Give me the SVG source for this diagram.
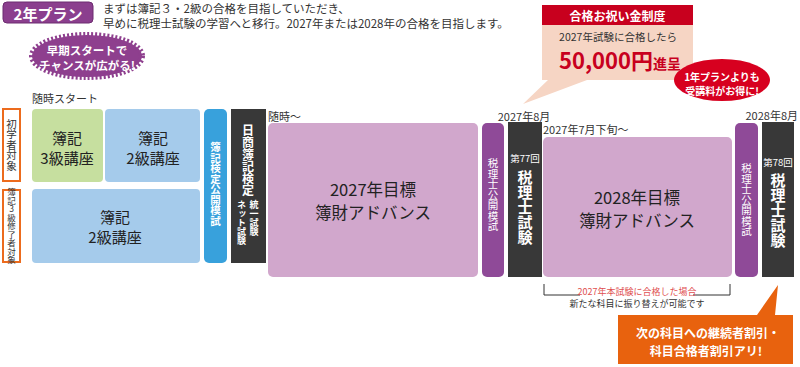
<svg xmlns="http://www.w3.org/2000/svg" width="800" height="367" viewBox="0 0 800 367">
<defs>
<style>
text{font-family:"Noto Sans CJK JP","Noto Sans",sans-serif;fill:#333;}
.c{text-anchor:middle;dominant-baseline:central;}
.v{writing-mode:vertical-rl;text-orientation:upright;text-anchor:middle;}
.s{writing-mode:vertical-rl;text-orientation:upright;text-anchor:start;}
.w{fill:#fff;}
.b{font-weight:bold;}
.dk{fill:#383838;}
.pk{fill:#d1a7cc;}
.pp{fill:#8f4a98;}
.lb{fill:#a5cbeb;}
.tag{fill:#fff;stroke:#ec6b1d;stroke-width:2;}
.big{font-size:16.5px;fill:#222;}
.bk{font-size:15px;fill:#222;}
</style>
</defs>
<rect width="800" height="367" fill="#fff"/>

<g id="badge">
<rect x="3" y="2" width="90" height="21" rx="4" fill="#8b3f8e" stroke="#6d2c70"/>
<text x="48" y="13" class="c w b" font-size="15">2年プラン</text>
</g>
<g id="intro">
<text x="103" y="13" font-size="11.5">まずは簿記３・2級の合格を目指していただき、</text>
<text x="103" y="27.5" font-size="11.5">早めに税理士試験の学習へと移行。2027年または2028年の合格を目指します。</text>
</g>

<g id="starburst">
<ellipse cx="87" cy="56" rx="55" ry="21" fill="#8e3f8e"/>
<ellipse cx="87" cy="56" rx="55" ry="21" fill="none" stroke="#8e3f8e" stroke-width="6" stroke-dasharray="2 2"/>
<text x="87" y="50" class="c w b" font-size="11.5">早期スタートで</text>
<text x="87" y="65" class="c w b" font-size="11.5">チャンスが広がる!</text>
</g>

<g id="reward">
<path d="M542 25 H693 V80 H587 L523 104 L548 80 H542 Z" fill="#f6d5c4"/>
<rect x="542" y="5" width="151" height="20" fill="#c8001e"/>
<text x="617.5" y="15" class="c w b" font-size="12">合格お祝い金制度</text>
<text x="618" y="36" class="c" font-size="10.5">2027年試験に合格したら</text>
<text x="559" y="69" font-size="22" font-weight="bold" style="fill:#c8001e">50,000円<tspan font-size="14">進呈</tspan></text>
</g>

<g id="discount">
<ellipse cx="722" cy="80" rx="48" ry="21" fill="#d7001f"/>
<text x="722" y="76" class="c w b" font-size="10">1年プランよりも</text>
<text x="722" y="90" class="c w b" font-size="10">受講料がお得に!</text>
</g>

<text x="32" y="103" font-size="11">随時スタート</text>

<g id="label-beginner">
<rect x="3" y="109" width="17" height="72" class="tag"/>
<text x="11.5" y="145" class="v" font-size="10.5">初学者対象</text>
</g>
<g id="label-boki3">
<rect x="3" y="190" width="17" height="72" class="tag"/>
<text x="11.5" y="226" class="v" font-size="8.5">簿記3級修了者対象</text>
</g>

<g id="boki3">
<rect x="32" y="109" width="71" height="73" rx="4" fill="#c6df9f"/>
<text x="67" y="137" class="c bk">簿記</text>
<text x="67" y="157" class="c bk">3級講座</text>
</g>
<g id="boki2a">
<rect x="105" y="109" width="95" height="73" rx="4" class="lb"/>
<text x="153" y="137" class="c bk">簿記</text>
<text x="153" y="157" class="c bk">2級講座</text>
</g>
<g id="boki2b">
<rect x="32" y="189" width="168" height="74" rx="4" class="lb"/>
<text x="115" y="216" class="c bk">簿記</text>
<text x="115" y="236" class="c bk">2級講座</text>
</g>
<g id="boki-mock">
<rect x="204" y="109" width="23" height="154" rx="5" fill="#38a1dc"/>
<text x="215.5" y="184" class="v w b" font-size="10.5">簿記検定公開模試</text>
</g>
<g id="nissho">
<rect x="231" y="109" width="35" height="154" class="dk"/>
<text x="248" y="160" class="v w b" font-size="12">日商簿記検定</text>
<text x="254" y="200" class="s w b" font-size="9">統一試験</text>
<text x="241.5" y="200" class="s w b" font-size="9">ネット試験</text>
</g>

<text x="268" y="116" font-size="11" dominant-baseline="central">随時〜</text>
<g id="adv2027">
<rect x="268" y="123" width="210" height="154" rx="5" class="pk"/>
<text x="373" y="189" class="c big">2027年目標</text>
<text x="373" y="212" class="c big">簿財アドバンス</text>
</g>
<g id="mock2027">
<rect x="482" y="123" width="22" height="154" rx="5" class="pp"/>
<text x="493" y="195" class="v w" font-size="10.5">税理士公開模試</text>
</g>
<text x="524" y="116" class="c" font-size="11">2027年8月</text>
<g id="exam77">
<rect x="508" y="122" width="34" height="155" class="dk"/>
<text x="525" y="158" class="c w" font-size="9.5">第77回</text>
<text x="525" y="170" class="s w b" font-size="15">税理士試験</text>
</g>

<text x="543" y="129" font-size="11" dominant-baseline="central">2027年7月下旬〜</text>
<g id="adv2028">
<rect x="543" y="137" width="189" height="140" rx="5" class="pk"/>
<text x="637" y="197" class="c big">2028年目標</text>
<text x="637" y="220" class="c big">簿財アドバンス</text>
</g>
<g id="mock2028">
<rect x="735" y="123" width="23" height="154" rx="5" class="pp"/>
<text x="746.5" y="200" class="v w" font-size="10.5">税理士公開模試</text>
</g>
<text x="798" y="115" font-size="11" text-anchor="end" dominant-baseline="central">2028年8月</text>
<g id="exam78">
<rect x="762" y="122" width="32" height="155" class="dk"/>
<text x="778" y="162" class="c w" font-size="9.5">第78回</text>
<text x="778" y="173" class="s w b" font-size="15">税理士試験</text>
</g>

<g id="connectors" fill="none" stroke="#333" stroke-width="1">
<path d="M544 284 V295 H580"/>
<path d="M693 295 H730 V284"/>
</g>
<g id="transfer-note">
<text x="637" y="291" class="c" font-size="9" style="fill:#e05050">2027年本試験に合格した場合</text>
<text x="637" y="303" class="c" font-size="9">新たな科目に振り替えが可能です</text>
</g>

<g id="callout">
<path d="M618 315 H757 L778 285 L775 315 H793 V364 H618 Z" fill="#e8620e"/>
<text x="708" y="332" class="c w b" font-size="12">次の科目への継続者割引・</text>
<text x="706" y="350" class="c w b" font-size="12">科目合格者割引アリ!</text>
</g>
</svg>
